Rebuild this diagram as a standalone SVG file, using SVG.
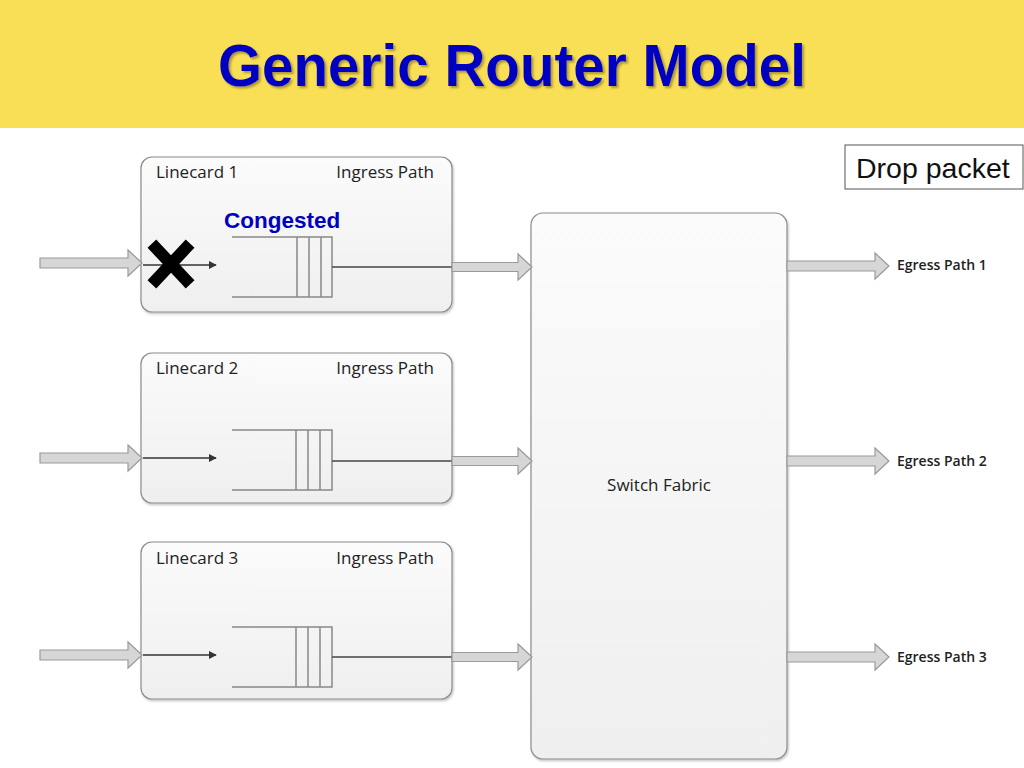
<svg xmlns="http://www.w3.org/2000/svg" width="1024" height="768" viewBox="0 0 1024 768">
<defs>
<linearGradient id="boxg" x1="0" y1="0" x2="0" y2="1">
<stop offset="0" stop-color="#fbfbfb"/>
<stop offset="1" stop-color="#efefef"/>
</linearGradient>
<filter id="sh" x="-10%" y="-10%" width="120%" height="120%">
<feDropShadow dx="1" dy="1.5" stdDeviation="1" flood-color="#000" flood-opacity="0.25"/>
</filter>
<filter id="tsh" x="-5%" y="-20%" width="110%" height="140%">
<feDropShadow dx="2" dy="2" stdDeviation="1" flood-color="#6b5a10" flood-opacity="0.55"/>
</filter>
<marker id="ah" viewBox="0 0 10 10" refX="9" refY="5" markerWidth="8" markerHeight="8" markerUnits="userSpaceOnUse" orient="auto">
<path d="M0,0 L10,5 L0,10 z" fill="#333"/>
</marker>
<path id="blk" d="M0,-5 L88,-5 L88,-13 L102,0 L88,13 L88,5 L0,5 z"/>
<path id="blk2" d="M0,-4.5 L66,-4.5 L66,-13 L80,0 L66,13 L66,4.5 L0,4.5 z"/>
</defs>
<style>
.card{fill:url(#boxg);stroke:#8c8c8c;stroke-width:1.2;filter:url(#sh)}
.lbl{font-family:"Open Sans","Liberation Sans",sans-serif;font-size:17px;fill:#222}
.eg{font-family:"Open Sans","Liberation Sans",sans-serif;font-size:14px;fill:#222;font-weight:600}
.q{stroke:#888;stroke-width:1.5;fill:none}
.qo{stroke:#444;stroke-width:1.5;fill:none}
.thin{stroke:#333;stroke-width:1.3;fill:none;marker-end:url(#ah)}
.ba{fill:#d6d6d6;stroke:#9a9a9a;stroke-width:1.2}
</style>
<rect x="0" y="0" width="1024" height="128" fill="#f9df55"/>
<text x="512" y="86" text-anchor="middle" font-family="'Liberation Sans',Arial,sans-serif" font-weight="bold" font-size="60" fill="#0000c0" filter="url(#tsh)" textLength="588" lengthAdjust="spacingAndGlyphs">Generic Router Model</text>

<g id="drop-packet">
<rect x="845" y="145" width="178" height="44" fill="#fff" stroke="#555" stroke-width="1"/>
<text x="856" y="178" font-family="'Liberation Sans',Arial,sans-serif" font-size="28.5" fill="#111">Drop packet</text>
</g>

<g id="switch-fabric">
<rect class="card" x="531" y="213" width="256" height="546" rx="12"/>
<text x="659" y="491" text-anchor="middle" class="lbl" font-size="18px">Switch Fabric</text>
</g>

<g id="linecard1">
<rect class="card" x="141" y="157" width="311" height="155" rx="11"/>
<text x="156" y="178" class="lbl">Linecard 1</text>
<text x="434" y="178" class="lbl" text-anchor="end">Ingress Path</text>
<text x="224" y="228" font-family="'Liberation Sans',Arial,sans-serif" font-weight="bold" font-size="22.5" fill="#0000c0">Congested</text>
<path class="q" d="M232,237 H332 V297 H232 M297,237 V297 M309,237 V297 M321,237 V297"/>
</g>

<g id="linecard2">
<rect class="card" x="141" y="353" width="311" height="150" rx="11"/>
<text x="156" y="374" class="lbl">Linecard 2</text>
<text x="434" y="374" class="lbl" text-anchor="end">Ingress Path</text>
<path class="q" d="M232,430 H332 V490 H232 M296,430 V490 M308,430 V490 M320,430 V490"/>
</g>

<g id="linecard3">
<rect class="card" x="141" y="542" width="311" height="157" rx="11"/>
<text x="156" y="564" class="lbl">Linecard 3</text>
<text x="434" y="564" class="lbl" text-anchor="end">Ingress Path</text>
<path class="q" d="M232,627 H332 V687 H232 M296,627 V687 M308,627 V687 M320,627 V687"/>
</g>

<g id="egress-labels">
<text x="897" y="270" class="eg">Egress Path 1</text>
<text x="897" y="466" class="eg">Egress Path 2</text>
<text x="897" y="662" class="eg">Egress Path 3</text>
</g>

<g id="connectors">
<use href="#blk" class="ba" transform="translate(40,263)"/>
<use href="#blk" class="ba" transform="translate(40,458)"/>
<use href="#blk" class="ba" transform="translate(40,655)"/>
<line class="thin" x1="143" y1="265" x2="216" y2="265"/>
<line class="thin" x1="143" y1="458" x2="216" y2="458"/>
<line class="thin" x1="143" y1="655" x2="216" y2="655"/>
<line class="qo" x1="332" y1="267" x2="452" y2="267"/>
<line class="qo" x1="332" y1="461" x2="452" y2="461"/>
<line class="qo" x1="332" y1="657" x2="452" y2="657"/>
<use href="#blk2" class="ba" transform="translate(452,267)"/>
<use href="#blk2" class="ba" transform="translate(452,461)"/>
<use href="#blk2" class="ba" transform="translate(452,657)"/>
<use href="#blk" class="ba" transform="translate(787,266)"/>
<use href="#blk" class="ba" transform="translate(787,461)"/>
<use href="#blk" class="ba" transform="translate(787,657)"/>
</g>

<g id="drop-mark">
<path d="M156,248 L186,280 M186,248 L156,280" stroke="#000" stroke-width="12" stroke-linecap="square" fill="none"/>
</g>
</svg>
